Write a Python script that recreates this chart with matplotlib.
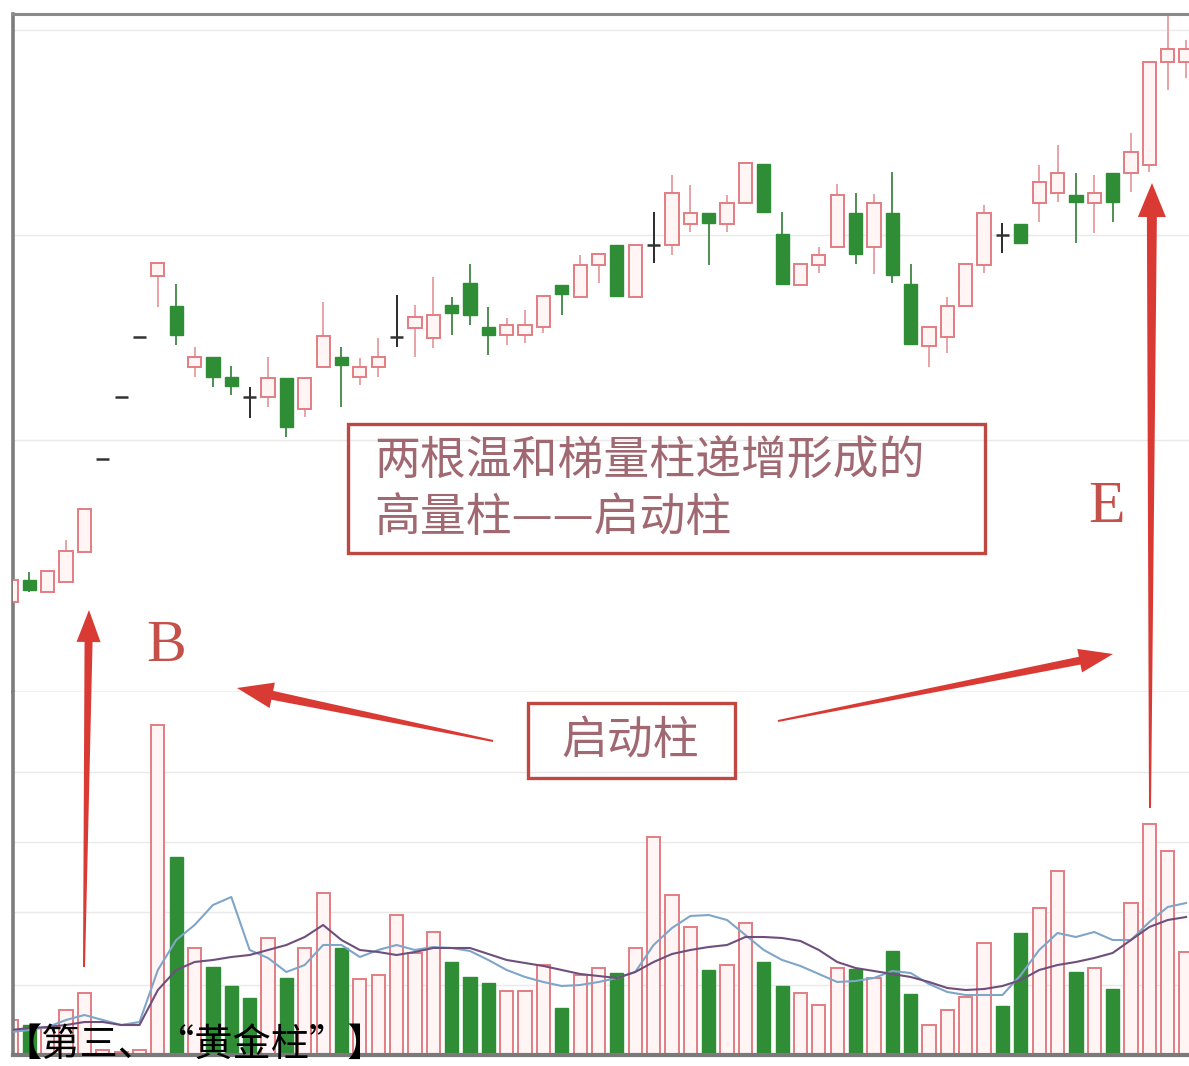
import numpy as np
import matplotlib.pyplot as plt
from matplotlib.patches import Polygon, Rectangle

plt.rcParams['font.family'] = ['Noto Sans CJK SC', 'DejaVu Sans']

# ---- daily candles (price units) ----
opens = [4.9, 6.0, 5.4, 5.9, 7.4, 12.05, 15.15, 18.15, 21.2, 19.7,
         16.65, 17.15, 16.15, 15.15, 15.15, 16.1, 14.55, 16.65, 17.15, 16.15,
         16.65, 18.15, 18.6, 18.1, 19.75, 20.85, 18.65, 18.25, 18.25, 18.65,
         20.75, 20.15, 21.75, 22.75, 20.15, 22.75, 22.75, 23.8, 24.35, 23.8,
         24.85, 26.8, 23.3, 20.75, 21.75, 22.65, 24.35, 22.65, 24.35, 20.8,
         17.7, 18.15, 19.7, 21.75, 23.25, 23.8, 24.85, 25.35, 25.25, 24.85,
         26.35, 26.35, 26.75, 31.9, 31.9]
closes = [6.0, 5.5, 6.45, 7.45, 9.55, 12.05, 15.15, 18.15, 21.85, 18.25,
          17.15, 16.15, 15.7, 15.15, 16.1, 13.65, 16.1, 18.2, 16.75, 16.65,
          17.15, 18.15, 19.15, 19.25, 19.35, 19.25, 18.25, 18.75, 18.75, 20.2,
          20.3, 21.75, 22.3, 20.2, 22.75, 22.75, 25.35, 24.35, 23.85, 24.85,
          26.85, 24.4, 20.8, 21.8, 22.25, 25.25, 22.3, 24.85, 21.25, 17.8,
          18.65, 19.7, 21.8, 24.35, 23.25, 22.85, 25.9, 26.35, 24.9, 25.35,
          24.9, 27.4, 31.9, 32.55, 32.55]
highs = [6.0, 6.4, 6.45, 8.0, 9.55, 12.05, 15.15, 18.15, 21.85, 20.8,
         17.65, 17.15, 16.7, 15.65, 17.15, 16.1, 16.1, 19.9, 17.65, 17.1,
         18.1, 20.25, 19.75, 21.15, 20.15, 21.8, 19.65, 19.1, 19.5, 20.2,
         20.75, 22.25, 22.3, 22.75, 22.75, 24.4, 26.25, 25.75, 24.35, 25.25,
         26.85, 26.8, 24.4, 21.8, 22.65, 25.8, 25.35, 25.3, 26.4, 21.8,
         18.65, 20.15, 21.8, 24.75, 23.85, 23.8, 26.75, 27.75, 26.35, 26.25,
         26.35, 28.35, 31.9, 34.35, 33.0]
lows = [4.7, 5.4, 5.4, 5.9, 7.4, 12.05, 15.15, 18.15, 19.65, 17.75,
        16.15, 15.65, 15.25, 14.1, 14.65, 13.15, 14.15, 16.65, 14.65, 15.75,
        16.15, 17.65, 17.15, 17.6, 18.25, 18.75, 17.25, 17.75, 17.85, 18.35,
        19.25, 20.15, 20.85, 20.2, 20.15, 21.85, 22.25, 23.4, 21.75, 23.4,
        24.85, 24.4, 20.8, 20.75, 21.35, 22.65, 21.8, 21.3, 20.85, 17.8,
        16.65, 17.35, 19.7, 21.35, 22.35, 22.85, 23.9, 24.9, 22.85, 23.35,
        23.9, 25.4, 26.4, 30.5, 31.1]

# ---- volume and its two moving-average lines ----
vols = [3.5, 3.0, 2.7, 4.5, 6.2, 0.5, 0.3, 0.5, 33.0, 19.8,
        10.7, 8.8, 6.9, 5.7, 11.7, 7.7, 10.7, 16.2, 10.7, 7.6,
        8.0, 14.0, 10.2, 12.3, 9.3, 7.8, 7.2, 6.4, 6.4, 9.0,
        4.7, 8.0, 8.7, 8.2, 10.7, 21.8, 16.0, 12.8, 8.5, 9.0,
        13.2, 9.3, 6.9, 6.2, 5.0, 8.7, 8.6, 7.7, 10.4, 6.1,
        3.0, 4.5, 5.8, 11.2, 4.9, 12.2, 14.7, 18.4, 8.3, 8.7,
        6.6, 15.2, 23.1, 20.4, 10.3]
# u = red (hollow) volume bar, d = green volume bar
vol_dir = ("uduuuuuuud" "uddduduudu" "uuuuddduuu" "duuduuuudu"
           "udduuududd" "uuuudduudu" "duuuu")
ma5 = [2.3, 2.5, 2.8, 3.5, 4.0, 3.5, 3.0, 3.3, 8.5, 11.5,
       13.0, 15.0, 15.8, 10.5, 9.7, 8.3, 9.0, 11.0, 11.0, 9.8,
       10.5, 11.0, 10.5, 10.8, 10.7, 10.4, 9.5, 8.5, 7.8, 7.3,
       6.9, 7.0, 7.3, 7.7, 8.3, 11.0, 12.7, 13.9, 14.0, 13.5,
       12.0, 10.5, 9.5, 8.9, 8.1, 7.3, 7.4, 7.7, 8.4, 8.2,
       7.1, 6.3, 6.0, 6.0, 6.0, 8.0, 10.5, 12.2, 11.8, 12.3,
       11.5, 11.5, 13.3, 14.8, 15.2]
ma10 = [2.5, 2.7, 2.8, 3.0, 3.3, 3.3, 3.0, 3.0, 6.5, 8.5,
        9.3, 9.5, 9.8, 10.0, 10.5, 11.0, 11.8, 13.0, 11.5, 10.5,
        10.3, 10.0, 10.3, 10.7, 10.7, 10.7, 10.1, 9.5, 9.2, 8.9,
        8.5, 8.1, 7.9, 7.7, 8.3, 9.3, 10.1, 10.5, 10.8, 11.0,
        11.8, 11.8, 11.7, 11.4, 10.5, 9.3, 8.7, 8.4, 8.1, 7.8,
        7.3, 6.7, 6.5, 6.6, 6.9, 7.5, 8.5, 9.0, 9.3, 9.7,
        10.2, 11.5, 12.8, 13.5, 13.8]

W, H = 1189, 1066
fig = plt.figure(figsize=(W / 100, H / 100), dpi=100)


def fx(x):
    return x / W


def fy(y):
    return 1 - y / H


ax_p = fig.add_axes([fx(13), fy(692), fx(1189) - fx(13), fy(14) - fy(692)])
ax_v = fig.add_axes([fx(13), fy(1055), fx(1189) - fx(13), fy(692) - fy(1055)])

o, c = np.array(opens), np.array(closes)
hi, lo = np.array(highs), np.array(lows)
idx = np.arange(len(o))
up, dn, flat = c > o, c < o, c == o

PINK_EDGE, PINK_FACE = '#e27d82', '#fff5f5'
GREEN = '#2f8d35'

# candles
ax_p.vlines(idx[up], lo[up], hi[up], color='#e8a3a6', lw=1.4, zorder=2)
ax_p.bar(idx[up], c[up] - o[up], bottom=o[up], width=0.72,
         facecolor=PINK_FACE, edgecolor=PINK_EDGE, lw=1.4, zorder=3)
ax_p.vlines(idx[dn], lo[dn], hi[dn], color='#4f8f52', lw=1.4, zorder=2)
ax_p.bar(idx[dn], c[dn] - o[dn], bottom=o[dn], width=0.72,
         facecolor=GREEN, edgecolor=GREEN, lw=1.0, zorder=3)
ax_p.vlines(idx[flat], lo[flat], hi[flat], color='#2a2a2a', lw=1.4, zorder=2)
ax_p.hlines(o[flat], idx[flat] - 0.36, idx[flat] + 0.36, color='#333333', lw=1.8, zorder=3)

# volume bars
v = np.array(vols)
vu = np.array([ch == 'u' for ch in vol_dir])
ax_v.bar(idx[vu], v[vu], width=0.72, facecolor=PINK_FACE, edgecolor=PINK_EDGE, lw=1.4, zorder=2)
ax_v.bar(idx[~vu], v[~vu], width=0.72, facecolor=GREEN, edgecolor=GREEN, lw=1.0, zorder=2)
ax_v.plot(idx, ma5, color='#7fa6c9', lw=1.5, zorder=4)
ax_v.plot(idx, ma10, color='#6e4f7c', lw=1.5, zorder=4)

for ax in (ax_p, ax_v):
    ax.set_xlim(0.11, 64.16)
    ax.set_xticks([])
    ax.tick_params(left=False, labelleft=False)
    ax.set_facecolor('white')
    ax.spines['right'].set_visible(False)
    ax.spines['left'].set_color('#7d7d7d')
    ax.spines['left'].set_linewidth(2.6)
    ax.grid(axis='y', color='#e9e9e9', lw=1.0, zorder=0)
    ax.set_axisbelow(True)

ax_p.set_ylim(0.4, 34.3)
ax_p.set_yticks([13.0, 23.25, 33.5])
ax_p.spines['top'].set_color('#8a8a8a')
ax_p.spines['top'].set_linewidth(2.2)
ax_p.spines['bottom'].set_color('#b8b8b8')
ax_p.spines['bottom'].set_linewidth(1.0)

ax_v.set_ylim(0, 36.3)
ax_v.set_yticks([7.0, 14.3, 21.3, 28.3])
ax_v.spines['top'].set_visible(False)
ax_v.spines['bottom'].set_color('#7a7a7a')
ax_v.spines['bottom'].set_linewidth(3.0)


# ---- annotations (figure pixel coordinates) ----
def arrow(x0, y0, x1, y1, w_tail, w_neck, head_w, head_len, color='#d93a33'):
    p0, p1 = np.array([x0, y0], float), np.array([x1, y1], float)
    u = (p1 - p0) / np.linalg.norm(p1 - p0)
    n = np.array([-u[1], u[0]])
    base = p1 - u * head_len
    pts = [p0 + n * w_tail / 2, base + n * w_neck / 2, base + n * head_w / 2, p1,
           base - n * head_w / 2, base - n * w_neck / 2, p0 - n * w_tail / 2]
    pts = [(fx(px), fy(py)) for px, py in pts]
    fig.add_artist(Polygon(pts, closed=True, transform=fig.transFigure,
                           fc=color, ec='none', zorder=10))


arrow(84, 967, 89, 610, 2, 8, 24, 32)
arrow(1150, 808, 1152, 183, 2, 10, 28, 34)
arrow(493, 741, 237, 688, 2, 9, 26, 36)
arrow(778, 721, 1113, 654, 2, 8, 24, 34)

BOX = '#bf4842'
TXT = '#a06870'
fig.add_artist(Rectangle((fx(348), fy(553)), fx(985) - fx(348), fy(424) - fy(553),
                         transform=fig.transFigure, fill=False, ec=BOX, lw=2.4, zorder=10))
fig.text(fx(374), fy(461), '两根温和梯量柱递增形成的', fontsize=33, color=TXT,
         ha='left', va='center', zorder=11)
fig.text(fx(374), fy(518), '高量柱——启动柱', fontsize=33, color=TXT,
         ha='left', va='center', zorder=11)

fig.add_artist(Rectangle((fx(528), fy(778)), fx(735) - fx(528), fy(703) - fy(778),
                         transform=fig.transFigure, fill=False, ec=BOX, lw=2.4, zorder=10))
fig.text(fx(630), fy(741), '启动柱', fontsize=33, color=TXT, ha='center', va='center', zorder=11)

fig.text(fx(1106), fy(508), 'E', family='Liberation Serif', fontsize=43, color='#c4504a',
         ha='center', va='center', zorder=11)
fig.text(fx(166), fy(647), 'B', family='Liberation Serif', fontsize=43, color='#c4504a',
         ha='center', va='center', zorder=11)

fig.text(fx(4), fy(1026), '【第三、“黄金柱”】', fontsize=27.5, color='black',
         ha='left', va='top', zorder=12)

fig.savefig('out.png', dpi=100, facecolor='white')
